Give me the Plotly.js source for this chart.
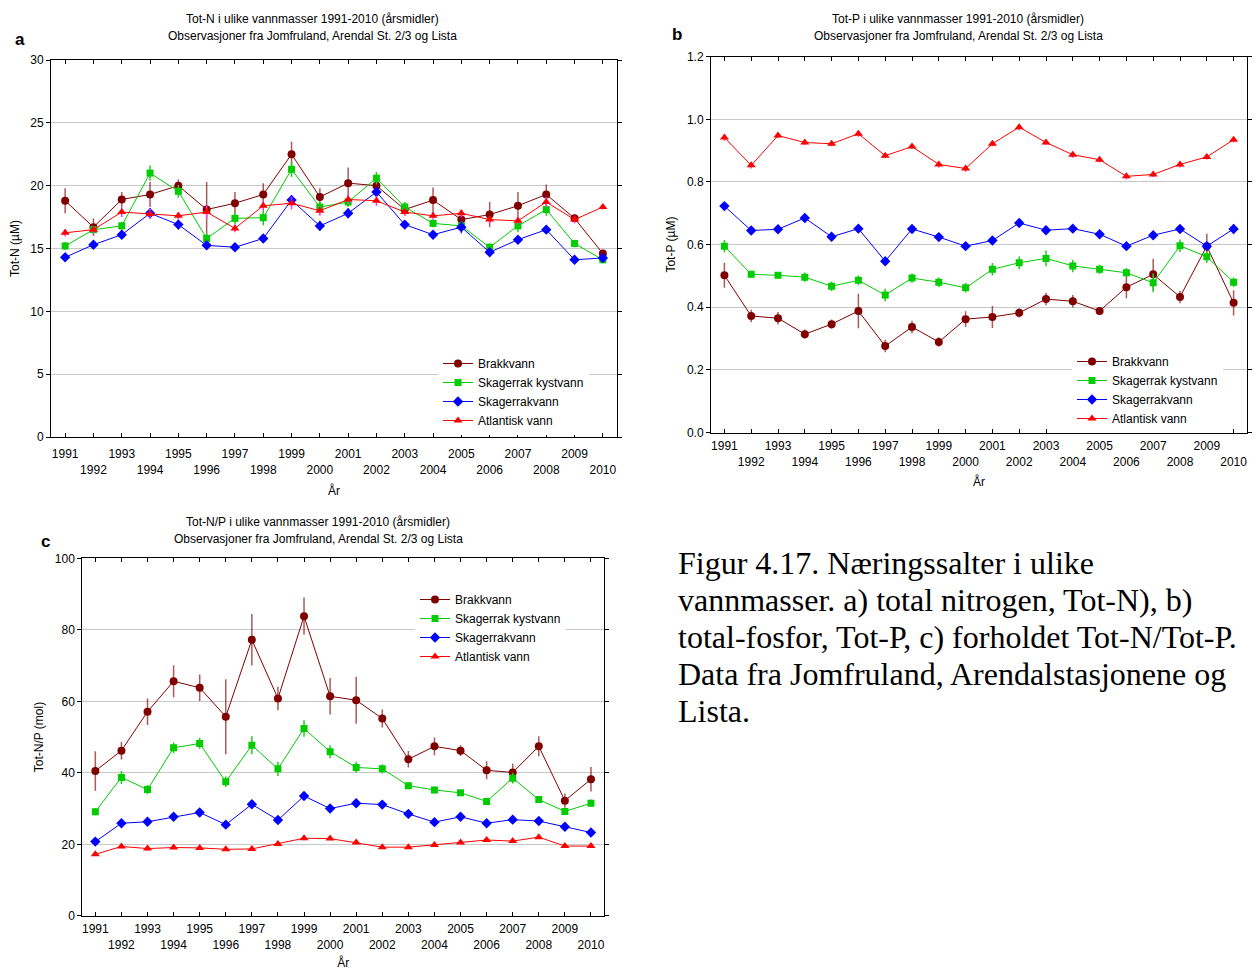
<!DOCTYPE html>
<html>
<head>
<meta charset="utf-8">
<script src="https://cdn.plot.ly/plotly-3.0.1.min.js"></script>
<style>
html,body{margin:0;padding:0;background:#fff;}
#chart{width:1258px;height:970px;}
</style>
</head>
<body>
<div id="chart"></div>
<script>
// ---------- DATA ----------
const years = [1991,1992,1993,1994,1995,1996,1997,1998,1999,2000,2001,2002,2003,2004,2005,2006,2007,2008,2009,2010];
const seriesNames = ["Brakkvann","Skagerrak kystvann","Skagerrakvann","Atlantisk vann"];

// Panel a: Tot-N (µM)
const totN_brakk     = [18.8,16.7,18.9,19.3,20.0,18.1,18.6,19.3,22.5,19.1,20.2,20.0,18.1,18.85,17.3,17.7,18.4,19.3,17.4,14.6];
const totN_brakk_err = [1.0,0.7,0.6,1.0,0.5,2.2,0.9,0.9,1.0,0.7,1.25,0.6,0.5,1.0,0.3,1.0,1.1,0.8,0.3,0.3];
const totN_kyst      = [15.2,16.5,16.8,21.0,19.55,15.8,17.4,17.45,21.3,18.3,18.7,20.6,18.3,17.0,16.8,15.1,16.8,18.1,15.4,14.1];
const totN_kyst_err  = [0.3,0.3,0.3,0.6,0.5,0.4,0.5,0.6,0.6,0.4,0.4,0.5,0.4,0.3,0.3,0.3,0.5,0.5,0.3,0.2];
const totN_skag      = [14.3,15.3,16.1,17.8,16.9,15.25,15.1,15.8,18.85,16.8,17.8,19.5,16.9,16.1,16.7,14.7,15.7,16.5,14.1,14.25];
const totN_skag_err  = [0.2,0.2,0.3,0.4,0.4,0.2,0.2,0.3,0.4,0.4,0.4,0.4,0.3,0.2,0.5,0.3,0.2,0.2,0.2,0.2];
const totN_atl       = [16.25,16.5,17.9,17.75,17.6,17.9,16.6,18.4,18.6,18.0,18.9,18.8,17.9,17.6,17.8,17.3,17.2,18.7,17.3,18.3];
const totN_atl_err   = [0.3,0.3,0.4,0.4,0.3,0.5,0.3,0.4,0.5,0.4,0.4,0.4,0.3,0.3,0.3,0.3,0.3,0.4,0.3,0.2];

// Panel b: Tot-P (µM)
const totP_brakk     = [0.502,0.372,0.365,0.314,0.346,0.388,0.276,0.337,0.289,0.362,0.369,0.382,0.426,0.419,0.388,0.464,0.505,0.433,0.595,0.414];
const totP_brakk_err = [0.04,0.02,0.02,0.015,0.015,0.055,0.02,0.02,0.015,0.025,0.035,0.015,0.02,0.02,0.01,0.035,0.05,0.02,0.04,0.04];
const totP_kyst      = [0.595,0.505,0.502,0.496,0.467,0.486,0.439,0.493,0.480,0.462,0.521,0.542,0.556,0.532,0.521,0.510,0.478,0.596,0.561,0.480];
const totP_kyst_err  = [0.02,0.01,0.01,0.015,0.015,0.015,0.02,0.015,0.015,0.015,0.02,0.02,0.025,0.02,0.015,0.015,0.03,0.02,0.02,0.015];
const totP_skag      = [0.723,0.645,0.649,0.685,0.625,0.651,0.547,0.650,0.624,0.595,0.613,0.669,0.646,0.651,0.633,0.595,0.630,0.650,0.595,0.650];
const totP_skag_err  = [0.01,0.01,0.01,0.01,0.01,0.01,0.01,0.01,0.01,0.01,0.01,0.01,0.01,0.01,0.01,0.01,0.01,0.01,0.01,0.015];
const totP_atl       = [0.942,0.853,0.948,0.926,0.922,0.954,0.884,0.913,0.856,0.843,0.922,0.975,0.926,0.887,0.871,0.818,0.824,0.856,0.880,0.935];
const totP_atl_err   = [0.01,0.01,0.008,0.008,0.008,0.01,0.008,0.008,0.01,0.01,0.008,0.01,0.008,0.01,0.008,0.01,0.008,0.01,0.008,0.008];

// Panel c: Tot-N/P (mol)
const np_brakk       = [40.5,46.2,57.1,65.6,63.8,55.7,77.2,60.8,83.8,61.4,60.3,55.2,43.8,47.4,46.2,40.7,40.1,47.4,32.2,38.2];
const np_brakk_err   = [5.5,2.5,3.7,4.5,3.7,10.5,7.2,3.3,5.2,5.1,6.6,2.5,2.3,2.5,1.5,2.5,2.5,2.8,2.0,3.4];
const np_kyst        = [29.1,38.7,35.3,47.0,48.2,37.5,47.7,41.1,52.4,45.9,41.5,41.1,36.4,35.2,34.4,32.0,38.5,32.5,29.2,31.5];
const np_kyst_err    = [1.0,1.8,1.3,1.5,1.5,1.5,2.5,2.0,2.3,1.8,1.5,1.3,1.0,1.0,0.8,1.0,1.5,0.8,1.0,1.0];
const np_skag        = [20.75,25.9,26.3,27.7,28.9,25.5,31.2,26.8,33.5,30.0,31.5,31.1,28.5,26.2,27.7,25.9,26.9,26.5,24.9,23.3];
const np_skag_err    = [0.6,0.6,0.6,0.6,0.6,0.6,0.7,0.6,0.9,0.7,0.7,0.6,0.6,0.6,0.6,0.6,0.6,0.6,0.6,0.6];
const np_atl         = [17.2,19.4,18.8,19.1,19.0,18.6,18.7,20.1,21.7,21.6,20.5,19.2,19.2,19.8,20.5,21.2,20.9,22.0,19.5,19.5];
const np_atl_err     = [0.5,0.5,0.5,0.5,0.5,0.5,0.5,0.5,0.6,0.5,0.5,0.5,0.5,0.5,0.5,0.5,0.5,0.5,0.5,0.5];

// Tick labels: odd years on first row, even years on second row
const yearTickText = years.map(y => (y % 2 === 0 ? "<br>" + y : String(y)));

const panelTitles = [
  ["Tot-N i ulike vannmasser 1991-2010 (årsmidler)", "Observasjoner fra Jomfruland, Arendal St. 2/3 og Lista"],
  ["Tot-P i ulike vannmasser 1991-2010 (årsmidler)", "Observasjoner fra Jomfruland, Arendal St. 2/3 og Lista"],
  ["Tot-N/P i ulike vannmasser 1991-2010 (årsmidler)", "Observasjoner fra Jomfruland, Arendal St. 2/3 og Lista"]
];
const panelLetters = ["a","b","c"];
const yTitles = ["Tot-N (µM)","Tot-P (µM)","Tot-N/P (mol)"];
const xTitle = "År";
const captionLines = [
  "Figur 4.17. Næringssalter i ulike",
  "vannmasser. a) total nitrogen, Tot-N), b)",
  "total-fosfor, Tot-P, c) forholdet Tot-N/Tot-P.",
  "Data fra Jomfruland, Arendalstasjonene og",
  "Lista."
];

// ---------- STYLES ----------
const FONT = "Liberation Sans, Arial, sans-serif";
const styles = {
  "Brakkvann":          {color:"#800000", symbol:"circle",      size:8, err:"rgba(128,0,0,0.65)"},
  "Skagerrak kystvann": {color:"#00cc00", symbol:"square",      size:7, err:"#22cc22"},
  "Skagerrakvann":      {color:"#0000ff", symbol:"diamond",     size:8, err:"#3333ff"},
  "Atlantisk vann":     {color:"#ff0000", symbol:"triangle-up", size:8, err:"#ff33ff"}
};

function mk(name, y, err, xa, ya, leg){
  const s = styles[name];
  return {
    type:"scatter", mode:"lines+markers", name:name, x:years, y:y,
    xaxis:xa, yaxis:ya, legend:leg,
    line:{color:s.color, width:1},
    marker:{color:s.color, symbol:s.symbol, size:s.size, line:{width:0}},
    error_y:{type:"data", array:err, visible:true, color:s.err, thickness:1.5, width:0}
  };
}

const panels = [
  {xa:"x",  ya:"y",  leg:"legend",  data:[totN_brakk,totN_kyst,totN_skag,totN_atl], err:[totN_brakk_err,totN_kyst_err,totN_skag_err,totN_atl_err]},
  {xa:"x2", ya:"y2", leg:"legend2", data:[totP_brakk,totP_kyst,totP_skag,totP_atl], err:[totP_brakk_err,totP_kyst_err,totP_skag_err,totP_atl_err]},
  {xa:"x3", ya:"y3", leg:"legend3", data:[np_brakk,np_kyst,np_skag,np_atl], err:[np_brakk_err,np_kyst_err,np_skag_err,np_atl_err]}
];

const traces = [];
panels.forEach(p => {
  seriesNames.forEach((n,i) => traces.push(mk(n, p.data[i], p.err[i], p.xa, p.ya, p.leg)));
});

// ---------- LAYOUT ----------
const W = 1258, H = 970;
const px = v => v / W;
const py = v => 1 - v / H;

function xAxis(d, anchor, labelOff, titleOff){
  return {
    domain:d, anchor:anchor, range:[1990.5,2010.5], tickmode:"array",
    tickvals:years, ticktext:yearTickText, tickangle:0, ticks:"inside", ticklen:4, tickcolor:"#000",
    ticklabelstandoff:labelOff,
    mirror:"ticks", showline:true, linecolor:"#000", linewidth:1, showgrid:false, zeroline:false,
    tickfont:{family:FONT, size:12, color:"#000"},
    title:{text:xTitle, font:{family:FONT, size:12, color:"#000"}, standoff:titleOff}
  };
}
function yAxis(d, anchor, range, dtick, fmt, title){
  return {
    domain:d, anchor:anchor, range:range, dtick:dtick, tick0:0, tickformat:fmt,
    ticks:"outside", ticklen:4, tickcolor:"#000",
    mirror:"ticks", showline:true, linecolor:"#000", linewidth:1,
    showgrid:true, gridcolor:"#c8c8c8", gridwidth:1, zeroline:false,
    tickfont:{family:FONT, size:12, color:"#000"},
    title:{text:title, font:{family:FONT, size:12, color:"#000"}, standoff:8}
  };
}

const legendBase = {
  bgcolor:"#ffffff", borderwidth:0, font:{family:FONT, size:12, color:"#000"},
  xanchor:"left", yanchor:"top", itemwidth:30, tracegroupgap:0, itemclick:false
};

const annotations = [];
const titleX = [312, 958, 318];
const titleY = [[19,36],[19,36],[522,539]];
panelTitles.forEach((t,i) => {
  t.forEach((line,j) => annotations.push({
    text:line, xref:"paper", yref:"paper", x:px(titleX[i]), y:py(titleY[i][j]),
    xanchor:"center", yanchor:"middle", showarrow:false,
    font:{family:FONT, size:12, color:"#000"}
  }));
});
const letterPos = [[20,40],[677,35],[45,541]];
panelLetters.forEach((l,i) => annotations.push({
  text:"<b>"+l+"</b>", xref:"paper", yref:"paper", x:px(letterPos[i][0]), y:py(letterPos[i][1]),
  xanchor:"center", yanchor:"middle", showarrow:false,
  font:{family:FONT, size:17, color:"#000"}
}));
captionLines.forEach((line,j) => annotations.push({
  text:line, xref:"paper", yref:"paper", x:px(676), y:py(563 + j*37),
  xanchor:"left", yanchor:"middle", showarrow:false,
  font:{family:"Liberation Serif, Times New Roman, serif", size:32, color:"#000"}
}));

const layout = {
  width:W, height:H, margin:{l:0,r:0,t:0,b:0},
  paper_bgcolor:"#ffffff", plot_bgcolor:"#ffffff",
  showlegend:true,
  xaxis:  xAxis([px(51), px(617)], "y", 6, 10),
  yaxis:  yAxis([py(437), py(60)], "x", [0,30], 5, "d", yTitles[0]),
  xaxis2: xAxis([px(711), px(1247)], "y2", 2, 10),
  yaxis2: yAxis([py(432.5), py(56.7)], "x2", [0,1.2], 0.2, ".1f", yTitles[1]),
  xaxis3: xAxis([px(82.3), px(604)], "y3", 2, 10),
  yaxis3: yAxis([py(915.8), py(558.3)], "x3", [0,100], 20, "d", yTitles[2]),
  legend:  Object.assign({}, legendBase, {x:px(438), y:py(349)}),
  legend2: Object.assign({}, legendBase, {x:px(1072), y:py(347)}),
  legend3: Object.assign({}, legendBase, {x:px(415), y:py(585)}),
  annotations:annotations
};

Plotly.newPlot("chart", traces, layout, {displayModeBar:false, staticPlot:true});
</script>
</body>
</html>
